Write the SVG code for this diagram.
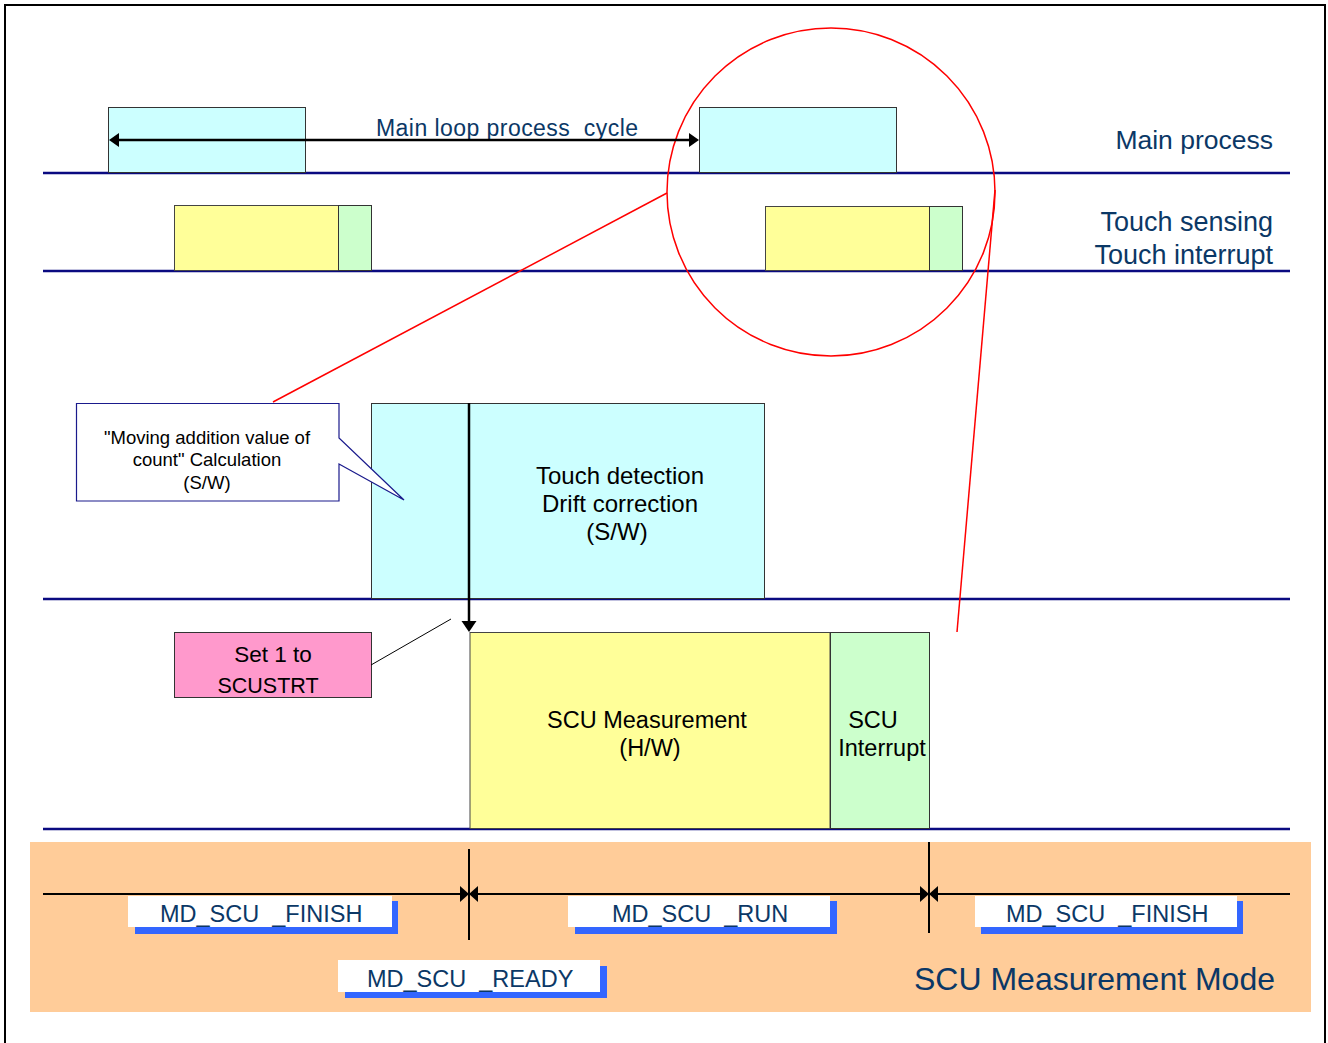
<svg xmlns="http://www.w3.org/2000/svg" width="1328" height="1043" viewBox="0 0 1328 1043">
<defs>
<style>
.t{font-family:"Liberation Sans",Arial,sans-serif;}
.blue{fill:#0B3866;}
.blk{fill:#000;}
.lane{stroke:#0A0A80;stroke-width:2.5;fill:none;}
.cyan{fill:#CCFFFF;stroke:#333;stroke-width:1;}
.yel{fill:#FFFF99;stroke:#444;stroke-width:1;}
.grn{fill:#CCFFCC;stroke:#333;stroke-width:1;}
.red{stroke:#FF0000;stroke-width:1.5;fill:none;}
.shadow{fill:#3366FF;}
.wbox{fill:#FFFFFF;}
.head{fill:#000;}
.lbl{font-size:23.5px;}
</style>
</defs>
<rect width="1328" height="1043" fill="#fff"/>
<path d="M5,1045 V5 H1325 V1045" fill="none" stroke="#000" stroke-width="2"/>

<g id="mode-background">
<rect x="30" y="842" width="1281" height="170" fill="#FFCC99"/>
</g>

<g id="lanes">
<line class="lane" x1="43" y1="173" x2="1290" y2="173"/>
<line class="lane" x1="43" y1="271" x2="1290" y2="271"/>
<line class="lane" x1="43" y1="599" x2="1290" y2="599"/>
<line class="lane" x1="43" y1="829" x2="1290" y2="829"/>
</g>

<g id="main-process-1"><rect class="cyan" x="108.5" y="107.5" width="197" height="65"/></g>
<g id="main-process-2"><rect class="cyan" x="699.5" y="107.5" width="197" height="65"/></g>
<g id="touch-sensing-1">
<rect class="yel" x="174.5" y="205.5" width="164" height="65"/>
<rect class="grn" x="338.5" y="205.5" width="33" height="65"/>
</g>
<g id="touch-sensing-2">
<rect class="yel" x="765.5" y="206.5" width="164" height="64"/>
<rect class="grn" x="929.5" y="206.5" width="33" height="64"/>
</g>

<g id="lane-labels">
<text class="t blue" x="376" y="136" font-size="23" textLength="262" xml:space="preserve">Main loop process  cycle</text>
<text class="t blue" x="1273" y="149" font-size="26.5" text-anchor="end">Main process</text>
<text class="t blue" x="1273" y="231" font-size="27" text-anchor="end">Touch sensing</text>
<text class="t blue" x="1273" y="264" font-size="27" text-anchor="end">Touch interrupt</text>
</g>

<g id="touch-detection">
<rect class="cyan" x="371.5" y="403.5" width="393" height="195"/>
<text class="t blk" x="620" y="484" font-size="24" text-anchor="middle">Touch detection</text>
<text class="t blk" x="620" y="512" font-size="24" text-anchor="middle">Drift correction</text>
<text class="t blk" x="617" y="540" font-size="24" text-anchor="middle">(S/W)</text>
</g>

<g id="scu-measurement">
<rect class="yel" x="470" y="632.5" width="360" height="196" stroke="#777"/>
<text class="t blk" x="647" y="728" font-size="23.5" text-anchor="middle">SCU Measurement</text>
<text class="t blk" x="650" y="756" font-size="23.5" text-anchor="middle">(H/W)</text>
</g>
<g id="scu-interrupt">
<rect class="grn" x="830.5" y="632.5" width="99" height="196" stroke="#555"/>
<text class="t blk" x="873" y="728" font-size="23.5" text-anchor="middle">SCU</text>
<text class="t blk" x="882" y="756" font-size="23.5" text-anchor="middle">Interrupt</text>
</g>

<g id="set-scustrt">
<rect x="174.5" y="632.5" width="197" height="65" fill="#FF99CC" stroke="#333" stroke-width="1"/>
<text class="t blk" x="273" y="662" font-size="22.5" text-anchor="middle">Set 1 to</text>
<text class="t blk" x="268" y="693" font-size="21.5" text-anchor="middle">SCUSTRT</text>
</g>

<g id="callout">
<path d="M76.5,403.5 H339 V438 L404,500 L339,464 V501 H76.5 Z" fill="#fff" stroke="#1A1A8C" stroke-width="1.2"/>
<text class="t blk" x="207" y="444" font-size="18.5" text-anchor="middle">"Moving addition value of</text>
<text class="t blk" x="207" y="466" font-size="18.5" text-anchor="middle">count" Calculation</text>
<text class="t blk" x="207" y="489" font-size="18.5" text-anchor="middle">(S/W)</text>
</g>

<g id="zoom-circle">
<circle class="red" cx="831" cy="192" r="164"/>
</g>

<g id="connectors">
<line x1="118" y1="140" x2="690" y2="140" stroke="#000" stroke-width="2.5"/>
<path class="head" d="M109,140 L119,133 L119,147 Z"/>
<path class="head" d="M699,140 L689,133 L689,147 Z"/>
<line x1="469" y1="403" x2="469" y2="622" stroke="#000" stroke-width="2.5"/>
<path class="head" d="M469,632 L461.5,621 L476.5,621 Z"/>
<line class="red" x1="667" y1="193" x2="273" y2="402"/>
<line class="red" x1="995" y1="190" x2="957" y2="632"/>
<line x1="371" y1="665" x2="451" y2="619" stroke="#000" stroke-width="1"/>
<line x1="43" y1="894" x2="1290" y2="894" stroke="#000" stroke-width="2"/>
<line x1="469" y1="849" x2="469" y2="940" stroke="#000" stroke-width="2"/>
<line x1="929" y1="842" x2="929" y2="933" stroke="#000" stroke-width="2"/>
<path class="head" d="M460,886 L469,894 L460,902 Z M478,886 L469,894 L478,902 Z"/>
<path class="head" d="M920,886 L929,894 L920,902 Z M938,886 L929,894 L938,902 Z"/>
</g>

<g id="label-finish-1">
<rect class="shadow" x="135" y="901" width="263" height="33"/>
<rect class="wbox" x="128" y="896" width="264" height="31"/>
<text class="t blue lbl" x="160" y="922" xml:space="preserve">MD_SCU  _FINISH</text>
</g>
<g id="label-run">
<rect class="shadow" x="575" y="901" width="262" height="33"/>
<rect class="wbox" x="568" y="896" width="262" height="31"/>
<text class="t blue lbl" x="612" y="922" xml:space="preserve">MD_SCU  _RUN</text>
</g>
<g id="label-finish-2">
<rect class="shadow" x="981" y="901" width="262" height="33"/>
<rect class="wbox" x="975" y="896" width="262" height="31"/>
<text class="t blue lbl" x="1006" y="922" xml:space="preserve">MD_SCU  _FINISH</text>
</g>
<g id="label-ready">
<rect class="shadow" x="345" y="966" width="262" height="32"/>
<rect class="wbox" x="338" y="960" width="262" height="32"/>
<text class="t blue lbl" x="367" y="987" xml:space="preserve">MD_SCU  _READY</text>
</g>
<g id="mode-title">
<text class="t blue" x="1275" y="990" font-size="32" text-anchor="end">SCU Measurement Mode</text>
</g>
</svg>
